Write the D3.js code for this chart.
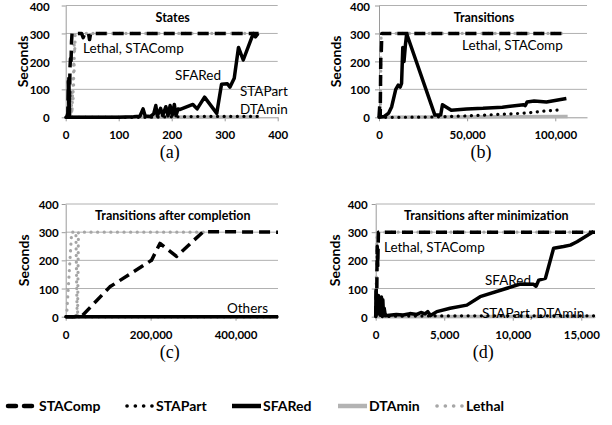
<!DOCTYPE html>
<html>
<head>
<meta charset="utf-8">
<script src="https://cdn.jsdelivr.net/npm/d3@7"></script>
<style>
  body { margin: 0; background: #fff; }
  svg { display: block; }
  text { font-family: Lato, "Open Sans", sans-serif; }
</style>
</head>
<body>
<svg id="chart" width="612" height="425"></svg>
<script>
const seriesNames = ['STAComp', 'STAPart', 'SFARed', 'DTAmin', 'Lethal'];
const yTickValues = [0, 100, 200, 300, 400];

// (a) States
const statesSTAComp = [[2,0],[4,15],[5,130],[6,30],[6,150],[7,5],[8,175],[9,210],[10,190],[11,270],[12,300],[30,300],[33,285],[36,300],[43,300],[45,278],[47,300],[120,300],[200,300],[300,300],[364,300]];
const statesSTAPart = [[0,0],[150,0],[210,2],[260,3],[300,3],[365,3]];
const statesSFARed = [[0,0],[100,0],[128,2],[140,4],[146,30],[150,5],[160,3],[166,12],[170,42],[173,5],[179,32],[183,6],[189,38],[193,5],[197,42],[201,8],[205,46],[208,6],[212,30],[216,28],[240,46],[248,30],[262,72],[285,14],[294,118],[305,120],[310,108],[318,140],[326,250],[335,205],[354,300],[358,288],[363,300]];
const statesDTAmin = [[0,0],[365,1]];
const statesLethal = [[3,0],[8,25],[10,0],[11,45],[12,15],[13,95],[14,55],[14,150],[15,115],[15,200],[16,165],[16,260],[17,230],[18,300],[100,300],[200,300],[300,300],[360,300]];

// (b) Transitions
const transSTAComp = [[0,0],[400,40],[700,5],[1000,210],[1300,235],[1600,300],[105000,300]];
const transSTAPart = [[0,0],[10000,0],[30000,1],[40000,3],[50000,5],[60000,8],[70000,11],[80000,14],[86000,17],[92000,21],[101000,26]];
const transSFARed = [[0,0],[3000,3],[5500,15],[7200,38],[9500,100],[10900,115],[12000,108],[12800,121],[13500,250],[14200,200],[15000,260],[15700,299],[31700,8],[35000,8],[36000,45],[41000,25],[49700,30],[59000,32],[70000,36],[82000,45],[83000,42],[84000,55],[88000,58],[95000,55],[106300,67]];
const transDTAmin = [[0,0],[107000,3]];
const transLethal = [[0,0],[800,30],[1200,300],[105000,300]];

// (c) Transitions after completion
const compSTAComp = [[0,0],[20000,0],[40000,5],[104000,106],[202000,200],[222000,260],[261000,214],[324000,302],[500000,300]];
const compSTAPart = [[0,0],[500000,0]];
const compSFARed = [[0,0],[500000,0]];
const compDTAmin = [[0,0],[500000,0]];
const compLethal = [[2000,0],[14000,300],[24000,300],[27000,0],[28000,5],[30000,300],[330000,300]];

// (d) Transitions after minimization
const minSTAComp = [[0,0],[40,100],[70,30],[110,250],[150,180],[200,300],[16000,300]];
const minSTAPart = [[0,0],[800,1],[2000,2],[6000,3],[16000,3]];
const minSFARed = [[0,0],[30,90],[60,20],[100,60],[150,10],[200,75],[250,15],[300,40],[350,5],[420,70],[470,10],[520,60],[570,5],[620,30],[700,3],[1000,5],[1500,8],[2000,6],[2500,11],[3000,8],[3300,15],[3600,10],[3800,18],[4000,4],[4460,18],[5430,30],[6650,41],[7620,71],[9580,101],[10550,116],[11520,115],[11700,108],[11900,130],[12380,136],[12980,243],[13710,249],[14200,254],[14690,266],[15900,302]];
const minDTAmin = [[0,0],[16000,1]];
const minLethal = [[0,0],[100,300],[16000,300]];

const styles = {
  STAComp: { color: '#000', width: 3.5, dash: '11,6', cap: 'butt' },
  STAPart: { color: '#000', width: 3.2, dash: '0.1,6.5', cap: 'round' },
  SFARed: { color: '#000', width: 3.5, dash: null, cap: 'butt' },
  DTAmin: { color: '#b3b3b3', width: 3.5, dash: null, cap: 'butt' },
  Lethal: { color: '#a6a6a6', width: 3.2, dash: '0.1,6.5', cap: 'round' }
};
// grey series go underneath the black ones
const drawOrder = [3, 4, 0, 1, 2];

const panels = [
  { title: 'States', caption: '(a)', left: 65.7, right: 277.7, bottom: 117.3, top: 5.5, xMax: 400,
    xTicks: [0, 100, 200, 300, 400], fmt: d3.format('d'), yPad: 12, yLabelX: 22.5,
    series: [statesSTAComp, statesSTAPart, statesSFARed, statesDTAmin, statesLethal],
    notes: [['Lethal, STAComp', 83, 53], ['SFARed', 175, 80], ['STAPart', 240, 96], ['DTAmin', 240, 114]] },
  { title: 'Transitions', caption: '(b)', left: 379, right: 587, bottom: 117.3, top: 5.5, xMax: 118000,
    xTicks: [0, 50000, 100000], fmt: d3.format(','), yPad: 5, yLabelX: 336,
    series: [transSTAComp, transSTAPart, transSFARed, transDTAmin, transLethal],
    notes: [['Lethal, STAComp', 462, 50]] },
  { title: 'Transitions after completion', caption: '(c)', left: 65.7, right: 278, bottom: 316.7, top: 204, xMax: 500000,
    xTicks: [0, 200000, 400000], fmt: d3.format(','), yPad: 3, yLabelX: 23.5,
    series: [compSTAComp, compSTAPart, compSFARed, compDTAmin, compLethal],
    notes: [['Others', 227, 313]] },
  { title: 'Transitions after minimization', caption: '(d)', left: 375.7, right: 595, bottom: 316.7, top: 204, xMax: 16000,
    xTicks: [0, 5000, 10000, 15000], fmt: d3.format(','), yPad: 4, yLabelX: 335,
    series: [minSTAComp, minSTAPart, minSFARed, minDTAmin, minLethal],
    notes: [['Lethal, STAComp', 384, 251.5], ['SFARed', 485, 285], ['STAPart, DTAmin', 482, 318]] }
];

const svg = d3.select('#chart');

panels.forEach(p => {
  let x = d3.scaleLinear().domain([0, p.xMax]).range([p.left, p.right]),
    y = d3.scaleLinear().domain([0, 400]).range([p.bottom, p.top]),
    g = svg.append('g');

  // gridlines
  g.selectAll('line.grid')
    .data(yTickValues.slice(1))
    .enter()
    .append('line')
    .attr('x1', p.left).attr('x2', p.right)
    .attr('y1', d => y(d)).attr('y2', d => y(d))
    .attr('stroke', '#b0b0b0').attr('stroke-width', 1);

  let xAxis = g.append('g')
    .attr('transform', `translate(0,${p.bottom})`)
    .call(d3.axisBottom(x).tickValues(p.xTicks).tickFormat(p.fmt).tickSize(4).tickSizeOuter(0).tickPadding(10));
  let yAxis = g.append('g')
    .attr('transform', `translate(${p.left},0)`)
    .call(d3.axisLeft(y).tickValues(yTickValues).tickSize(4).tickSizeOuter(0).tickPadding(p.yPad));
  [xAxis, yAxis].forEach(a => {
    a.select('.domain').attr('stroke', '#9a9a9a');
    a.selectAll('.tick line').attr('stroke', '#9a9a9a');
    a.selectAll('.tick text')
      .attr('fill', '#000')
      .style('font-size', '11.5px')
      .style('font-weight', 'bold');
  });
  yAxis.selectAll('.tick text').attr('dy', '0.4em');

  let line = d3.line().x(d => x(d[0])).y(d => y(d[1]));
  drawOrder.forEach(i => {
    let st = styles[seriesNames[i]];
    g.append('path')
      .datum(p.series[i])
      .attr('d', line)
      .attr('fill', 'none')
      .attr('stroke', st.color)
      .attr('stroke-width', st.width)
      .attr('stroke-linejoin', 'round')
      .attr('stroke-linecap', st.cap)
      .attr('stroke-dasharray', st.dash);
  });

  g.append('text')
    .attr('x', (p.left + p.right) / 2 + 1)
    .attr('y', p.top + 16)
    .attr('text-anchor', 'middle')
    .style('font-size', '12.5px')
    .style('font-weight', 'bold')
    .text(p.title);

  g.append('text')
    .attr('transform', `translate(${p.yLabelX + 5},${(p.top + p.bottom) / 2}) rotate(-90)`)
    .attr('text-anchor', 'middle')
    .style('font-size', '14px')
    .style('font-weight', 'bold')
    .text('Seconds');

  g.selectAll('text.note')
    .data(p.notes)
    .enter()
    .append('text')
    .attr('x', d => d[1])
    .attr('y', d => d[2])
    .style('font-size', '13.5px')
    .text(d => d[0]);

  g.append('text')
    .attr('x', (p.left + p.right) / 2 - 2)
    .attr('y', p.bottom + 41)
    .attr('text-anchor', 'middle')
    .style('font-family', '"Liberation Serif", serif')
    .style('font-size', '18px')
    .text(p.caption);
});

// legend
const legendX = [8, 125, 232, 338, 435];
const legend = svg.append('g').attr('transform', 'translate(0,406)');
seriesNames.forEach((name, i) => {
  let st = styles[name],
    item = legend.append('g').attr('transform', `translate(${legendX[i]},0)`);
  item.append('line')
    .attr('x1', st.cap == 'round' ? 2 : 0).attr('x2', st.cap == 'round' ? 27 : 29)
    .attr('stroke', st.color)
    .attr('stroke-width', name == 'STAPart' || name == 'Lethal' ? 3.6 : 4.5)
    .attr('stroke-linecap', name == 'STAComp' ? 'round' : st.cap)
    .attr('stroke-dasharray', name == 'STAComp' ? '8,8' : (st.dash ? '0.1,8.2' : null));
  item.append('text')
    .attr('x', 31)
    .attr('y', 5)
    .style('font-size', '14px')
    .style('font-weight', 'bold')
    .text(name);
});
</script>
</body>
</html>
